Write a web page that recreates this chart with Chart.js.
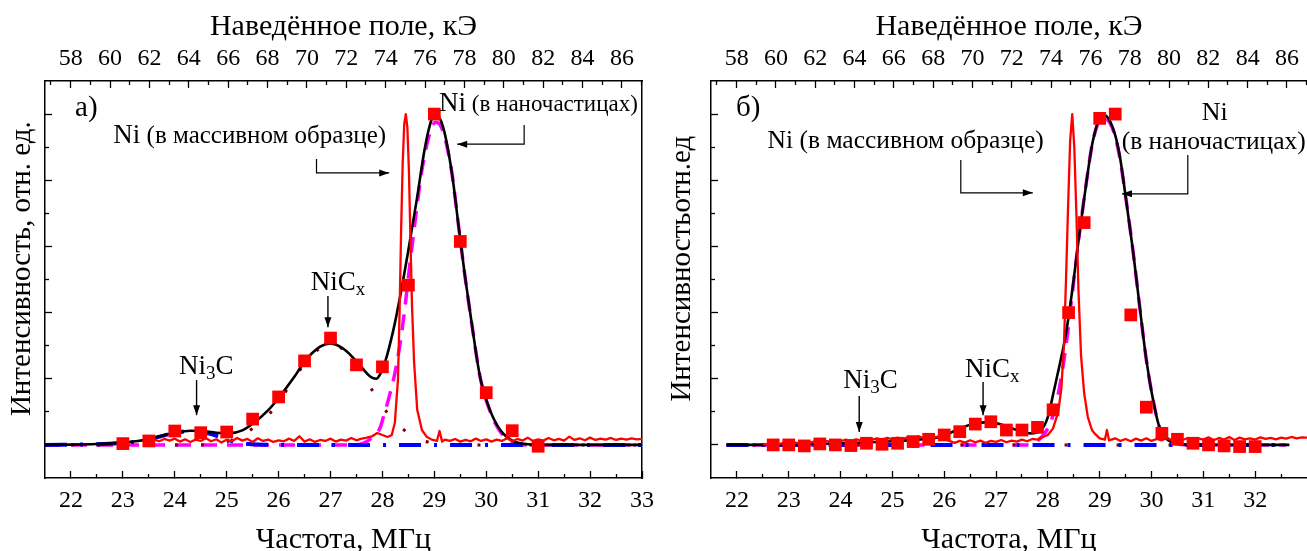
<!DOCTYPE html>
<html>
<head>
<meta charset="utf-8" />
<title>Спектры ЯМР Ni</title>
<script src="https://cdn.jsdelivr.net/npm/chart.js"></script>
<style>
  html, body { margin: 0; padding: 0; background: #fff; overflow: hidden; width: 1307px; height: 551px; position: relative; }
  canvas { position: absolute; top: 0; }
  #chartA { left: 0; }
  #chartB { left: 660px; }
</style>
</head>
<body>
<canvas id="chartA" width="660" height="551"></canvas>
<canvas id="chartB" width="670" height="551"></canvas>
<script>
// ---------- axes ----------
const freqTicksA = [22, 23, 24, 25, 26, 27, 28, 29, 30, 31, 32, 33];
const freqTicksB = [22, 23, 24, 25, 26, 27, 28, 29, 30, 31, 32];
const freqMinor = [22.5, 23.5, 24.5, 25.5, 26.5, 27.5, 28.5, 29.5, 30.5, 31.5, 32.5];
const fieldTicks = [58, 60, 62, 64, 66, 68, 70, 72, 74, 76, 78, 80, 82, 84, 86];
const fieldMinor = [57, 59, 61, 63, 65, 67, 69, 71, 73, 75, 77, 79, 81, 83, 85, 87];
const intensityTicks = [0, 0.2, 0.4, 0.6, 0.8, 1.0];
const intensityMinor = [0.1, 0.3, 0.5, 0.7, 0.9];

// ---------- panel a) ----------
// experimental points (nanoparticles)
const aSqF = [23.0, 23.5, 24.0, 24.5, 25.0, 25.5, 26.0, 26.5, 27.0, 27.5, 28.0, 28.5, 29.0, 29.5, 30.0, 30.5, 31.0];
const aSqI = [0.004, 0.012, 0.042, 0.037, 0.039, 0.078, 0.145, 0.254, 0.323, 0.242, 0.236, 0.483, 1.0, 0.615, 0.158, 0.043, -0.004];
// total fit (black)
const aFitF = [21.5, 22.0, 22.5, 23.0, 23.5, 23.8, 24.0, 24.3, 24.5, 24.8, 25.05, 25.3, 25.55, 25.8, 26.0, 26.3, 26.5, 26.8, 27.0, 27.28,
               27.53, 27.77, 27.88, 27.96, 28.05, 28.21, 28.34, 28.5, 28.66, 28.82, 28.95, 29.02, 29.17, 29.34, 29.46, 29.59, 29.72, 29.88, 30.07, 30.27,
               30.5, 30.8, 31.2, 33.0];
const aFitI = [0, 0.001, 0.003, 0.007, 0.017, 0.030, 0.037, 0.043, 0.042, 0.037, 0.035, 0.044, 0.070, 0.105, 0.142, 0.205, 0.252, 0.297, 0.307, 0.287,
               0.247, 0.206, 0.200, 0.215, 0.250, 0.347, 0.448, 0.589, 0.740, 0.900, 0.985, 1.0, 0.960, 0.820, 0.670, 0.510, 0.367, 0.206, 0.106, 0.045,
               0.013, 0.002, 0, 0];
// Ni in nanoparticles component (magenta dash)
const aNiF = [21.5, 27.5, 27.7, 27.85, 27.95, 28.02, 28.12, 28.24, 28.37, 28.57, 28.76, 28.9, 29.02, 29.1, 29.2, 29.34, 29.46, 29.59, 29.72, 29.88,
              30.07, 30.27, 30.5, 30.8, 33.0];
const aNiI = [0, 0, 0.010, 0.030, 0.050, 0.085, 0.140, 0.217, 0.338, 0.600, 0.830, 0.935, 0.975, 0.970, 0.930, 0.820, 0.670, 0.510, 0.367, 0.206,
              0.103, 0.040, 0.010, 0, 0];
// Ni3C component (blue dash-dot)
const aNi3CF = [21.5, 22.5, 23.0, 23.5, 23.8, 24.0, 24.3, 24.5, 24.7, 24.9, 25.1, 25.3, 25.6, 26.0, 33.0];
const aNi3CI = [0, 0.002, 0.006, 0.016, 0.029, 0.036, 0.042, 0.040, 0.033, 0.022, 0.012, 0.005, 0.001, 0, 0];
// NiCx component (dark red dots)
const aNiCxF = [21.5, 24.5, 25.0, 25.3, 25.5, 25.8, 26.0, 26.3, 26.5, 26.8, 27.0, 27.28, 27.53, 27.8, 28.08, 28.42, 28.7, 29.0, 29.5, 33.0];
const aNiCxI = [0, 0, 0.010, 0.030, 0.050, 0.090, 0.130, 0.200, 0.245, 0.293, 0.303, 0.285, 0.240, 0.166, 0.100, 0.045, 0.018, 0.005, 0, 0];
// bulk Ni spectrum (red line)
const aBulkF = [23.5, 23.6, 23.7, 23.8, 23.9, 24.0, 24.1, 24.2, 24.3, 24.4,
                24.5, 24.6, 24.7, 24.8, 24.9, 25.0, 25.1, 25.2, 25.3, 25.4,
                25.5, 25.6, 25.7, 25.8, 25.9, 26.0, 26.1, 26.2, 26.3, 26.4,
                26.5, 26.6, 26.7, 26.8, 26.9, 27.0, 27.1, 27.2, 27.3, 27.4,
                27.5, 27.6, 27.7, 27.8, 27.9, 28.0, 28.1, 28.18, 28.24, 28.3,
                28.33, 28.36, 28.39, 28.42, 28.45, 28.48, 28.51, 28.54, 28.57, 28.61,
                28.67, 28.76, 28.85, 28.95, 29.05, 29.1, 29.15, 29.2, 29.3, 29.4,
                29.5, 29.6, 29.7, 29.8, 29.9, 30.0, 30.1, 30.2, 30.3, 30.4,
                30.5, 30.6, 30.7, 30.8, 30.9, 31.0, 31.1, 31.2, 31.3, 31.4,
                31.5, 31.6, 31.7, 31.8, 31.9, 32.0, 32.1, 32.2, 32.3, 32.4,
                32.5, 32.6, 32.7, 32.8, 32.9, 33.0];
const aBulkI = [0.012, 0.016, 0.011, 0.018, 0.013, 0.019, 0.010, 0.017, 0.009, 0.016,
                0.012, 0.020, 0.011, 0.017, 0.007, 0.016, 0.011, 0.021, 0.013, 0.018,
                0.009, 0.020, 0.012, 0.016, 0.009, 0.014, 0.011, 0.019, 0.012, 0.026,
                0.010, 0.017, 0.009, 0.015, 0.012, 0.019, 0.010, 0.016, 0.013, 0.021,
                0.014, 0.019, 0.022, 0.026, 0.036, 0.030, 0.024, 0.030, 0.068, 0.200,
                0.400, 0.650, 0.850, 0.970, 1.000, 0.960, 0.830, 0.620, 0.420, 0.250,
                0.106, 0.045, 0.025, 0.016, 0.012, 0.042, 0.010, 0.016, 0.012, 0.018,
                0.010, 0.015, 0.011, 0.019, 0.012, 0.017, 0.010, 0.016, 0.012, 0.020,
                0.011, 0.018, 0.013, 0.022, 0.012, 0.017, 0.013, 0.021, 0.014, 0.018,
                0.013, 0.025, 0.015, 0.020, 0.014, 0.022, 0.015, 0.019, 0.016, 0.021,
                0.015, 0.019, 0.016, 0.020, 0.017, 0.018];

// ---------- panel б) ----------
const bSqF = [22.7, 23.0, 23.3, 23.6, 23.9, 24.2, 24.5, 24.8, 25.1, 25.4,
              25.7, 26.0, 26.3, 26.6, 26.9, 27.2, 27.5, 27.8, 28.1, 28.4,
              28.7, 29.0, 29.3, 29.6, 29.9, 30.2, 30.5, 30.8, 31.1, 31.4,
              31.7, 32.0];
const bSqI = [0.0, 0.0, -0.003, 0.003, 0.0, -0.002, 0.005, 0.002, 0.005, 0.010,
              0.017, 0.030, 0.040, 0.063, 0.070, 0.045, 0.045, 0.053, 0.106, 0.400,
              0.672, 0.987, 1.0, 0.393, 0.114, 0.035, 0.017, 0.005, 0.0, -0.003,
              -0.005, -0.005];
const bFitF = [21.8, 23.0, 24.0, 25.0, 25.5, 25.94, 26.2, 26.5, 26.83, 27.1, 27.4, 27.67, 27.87, 28.0, 28.12, 28.22, 28.35, 28.48, 28.61, 28.74,
               28.87, 29.06, 29.25, 29.38, 29.51, 29.64, 29.77, 29.9, 30.03, 30.15, 30.28, 30.5, 30.8, 32.66];
const bFitI = [0, 0.001, 0.005, 0.011, 0.016, 0.025, 0.042, 0.061, 0.069, 0.062, 0.045, 0.035, 0.045, 0.085, 0.166, 0.237, 0.337, 0.478, 0.640, 0.790,
               0.920, 1.0, 0.960, 0.880, 0.740, 0.590, 0.420, 0.257, 0.136, 0.055, 0.020, 0.004, 0, 0];
const bNiF = [21.8, 27.6, 27.8, 28.0, 28.12, 28.22, 28.35, 28.48, 28.61, 28.74, 28.87, 29.06, 29.25, 29.38, 29.51, 29.64, 29.77, 29.9, 30.03, 30.15,
              30.28, 30.45, 30.7, 32.6];
const bNiI = [0, 0, 0.012, 0.050, 0.100, 0.170, 0.300, 0.470, 0.640, 0.790, 0.920, 0.990, 0.955, 0.875, 0.740, 0.590, 0.420, 0.257, 0.136, 0.055,
              0.020, 0.005, 0, 0];
const bNi3CF = [21.8, 32.6];
const bNi3CI = [0, 0];
const bNiCxF = [21.8, 32.6];
const bNiCxI = [0, 0];
const bBulkF = [22.5, 22.6, 22.7, 22.8, 22.9, 23.0, 23.1, 23.2, 23.3, 23.4,
                23.5, 23.6, 23.7, 23.8, 23.9, 24.0, 24.1, 24.2, 24.3, 24.4,
                24.5, 24.6, 24.7, 24.8, 24.9, 25.0, 25.1, 25.2, 25.3, 25.4,
                25.5, 25.6, 25.7, 25.8, 25.9, 26.0, 26.1, 26.2, 26.3, 26.4,
                26.5, 26.6, 26.7, 26.8, 26.9, 27.0, 27.1, 27.2, 27.3, 27.4,
                27.5, 27.6, 27.7, 27.8, 27.9, 28.0, 28.1, 28.2, 28.26, 28.31,
                28.35, 28.39, 28.43, 28.47, 28.51, 28.55, 28.59, 28.64, 28.7, 28.77,
                28.85, 28.9, 29.0, 29.1, 29.14, 29.18, 29.3, 29.4, 29.5, 29.6,
                29.7, 29.8, 29.9, 30.0, 30.1, 30.2, 30.3, 30.4, 30.5, 30.6,
                30.7, 30.8, 30.9, 31.0, 31.1, 31.2, 31.3, 31.4, 31.5, 31.6,
                31.7, 31.8, 31.9, 32.0, 32.1, 32.2, 32.3, 32.4, 32.5, 32.6,
                32.7, 32.8, 32.9, 33.0];
const bBulkI = [0.003, 0.000, 0.005, 0.002, 0.006, 0.004, 0.008, 0.005, 0.009, 0.006,
                0.011, 0.008, 0.012, 0.010, 0.014, 0.011, 0.016, 0.012, 0.017, 0.014,
                0.018, 0.015, 0.020, 0.016, 0.021, 0.017, 0.022, 0.018, 0.024, 0.020,
                0.026, 0.021, 0.028, 0.023, 0.026, 0.018, 0.012, 0.006, 0.012, 0.007,
                0.014, 0.008, 0.013, 0.006, 0.012, 0.009, 0.015, 0.008, 0.013, 0.010,
                0.016, 0.011, 0.018, 0.016, 0.024, 0.030, 0.050, 0.100, 0.170, 0.300,
                0.500, 0.720, 0.920, 1.000, 0.900, 0.700, 0.470, 0.270, 0.157, 0.085,
                0.045, 0.035, 0.020, 0.016, 0.045, 0.014, 0.020, 0.012, 0.018, 0.011,
                0.019, 0.013, 0.020, 0.012, 0.018, 0.014, 0.022, 0.013, 0.019, 0.015,
                0.021, 0.014, 0.020, 0.016, 0.023, 0.014, 0.021, 0.016, 0.024, 0.015,
                0.022, 0.017, 0.020, 0.016, 0.023, 0.018, 0.021, 0.017, 0.022, 0.019,
                0.024, 0.020, 0.023, 0.022];

// ---------- common settings ----------
const SERIF = "'Liberation Serif', 'Times New Roman', serif";
const KOE_PER_MHZ = 2.637;   // top axis = field, bottom axis = frequency
const F_MIN = 21.5, F_MAX = 33.0;
const I_MIN = -0.1, I_MAX = 1.1;

const pts = (xs, ys) => xs.map((x, i) => ({ x: x, y: ys[i] }));

function makeScales(freqTicks, yTitle, withRightFrame) {
  // fixed axis size, and no extra room for edge labels so the frame stays put
  const fixed = (key, val) => s => {
    s[key] = val;
    s.paddingLeft = s.paddingRight = s.paddingTop = s.paddingBottom = 0;
  };
  const setTicks = list => s => { s.ticks = list.map(v => ({ value: v })); };
  const major = { drawOnChartArea: false, tickLength: -7, tickWidth: 1.3, tickColor: '#000' };
  const minor = { drawOnChartArea: false, tickLength: -4, tickWidth: 1.3, tickColor: '#000' };
  const edge = { color: '#000', width: 1.5 };
  const scales = {
    x: {
      type: 'linear', axis: 'x', position: 'bottom', min: F_MIN, max: F_MAX,
      afterBuildTicks: setTicks(freqTicks), afterFit: fixed('height', 73),
      grid: major, border: edge,
      ticks: { font: { family: SERIF, size: 24 }, color: '#000', padding: 15, maxRotation: 0, autoSkip: false },
      title: { display: true, text: 'Частота, МГц', color: '#000',
               font: { family: SERIF, size: 30, lineHeight: 1 }, padding: { top: 0, bottom: -4 } }
    },
    xMinor: {
      type: 'linear', axis: 'x', position: 'bottom', weight: -1, min: F_MIN, max: F_MAX,
      afterBuildTicks: setTicks(freqMinor), afterFit: fixed('height', 0),
      grid: minor, border: { display: false }, ticks: { display: false }
    },
    field: {
      type: 'linear', axis: 'x', position: 'top',
      min: F_MIN * KOE_PER_MHZ, max: F_MAX * KOE_PER_MHZ,
      afterBuildTicks: setTicks(fieldTicks), afterFit: fixed('height', 81),
      grid: major, border: edge,
      ticks: { font: { family: SERIF, size: 24 }, color: '#000', padding: 15, maxRotation: 0, autoSkip: false },
      title: { display: true, text: 'Наведённое поле, кЭ', color: '#000',
               font: { family: SERIF, size: 30, lineHeight: 1 }, padding: { top: 12, bottom: 0 } }
    },
    fieldMinor: {
      type: 'linear', axis: 'x', position: 'top', weight: -1,
      min: F_MIN * KOE_PER_MHZ, max: F_MAX * KOE_PER_MHZ,
      afterBuildTicks: setTicks(fieldMinor), afterFit: fixed('height', 0),
      grid: minor, border: { display: false }, ticks: { display: false }
    },
    y: {
      type: 'linear', axis: 'y', position: 'left', min: I_MIN, max: I_MAX,
      afterBuildTicks: setTicks(intensityTicks), afterFit: fixed('width', withRightFrame ? 45 : 51),
      grid: major, border: edge, ticks: { display: false },
      title: { display: true, text: yTitle, color: '#000',
               font: { family: SERIF, size: 29, lineHeight: 1 }, padding: { top: 8, bottom: 0 } }
    },
    yMinor: {
      type: 'linear', axis: 'y', position: 'left', weight: -1, min: I_MIN, max: I_MAX,
      afterBuildTicks: setTicks(intensityMinor), afterFit: fixed('width', 0),
      grid: minor, border: { display: false }, ticks: { display: false }
    }
  };
  if (withRightFrame) {
    scales.frame = {
      type: 'linear', axis: 'y', position: 'right', min: I_MIN, max: I_MAX,
      afterFit: fixed('width', 0), grid: { display: false }, border: edge, ticks: { display: false }
    };
  }
  return scales;
}

function makeDatasets(d) {
  const line = { showLine: true, pointRadius: 0, fill: false, xAxisID: 'x', yAxisID: 'y' };
  return [
    { ...line, data: pts(d.sqF, d.sqI), showLine: false, pointStyle: 'rect', pointRadius: 9,
      backgroundColor: '#ff0000', borderWidth: 0, order: 0 },
    { ...line, data: pts(d.bulkF, d.bulkI), borderColor: '#ff0000', borderWidth: 2.3, tension: 0,
      borderJoinStyle: 'round', order: 1 },
    { ...line, data: pts(d.fitF, d.fitI), borderColor: '#000', borderWidth: 2.6, cubicInterpolationMode: 'monotone', order: 2 },
    { ...line, data: pts(d.ni3cF, d.ni3cI), borderColor: '#0000ff', borderWidth: 4, borderDash: [22, 13, 3, 13],
      cubicInterpolationMode: 'monotone', order: 3 },
    { ...line, data: pts(d.nicxF, d.nicxI), borderColor: '#800000', borderWidth: 3, borderDash: [3, 23],
      cubicInterpolationMode: 'monotone', order: 4 },
    { ...line, data: pts(d.niF, d.niI), borderColor: '#ff00ff', borderWidth: 3.5, borderDash: [16, 10],
      cubicInterpolationMode: 'monotone', order: 5 }
  ];
}

// labels and arrows, placed in data coordinates (MHz, intensity)
const annotate = {
  id: 'annotate',
  afterDatasetsDraw(chart, args, opts) {
    const { ctx } = chart;
    const sx = chart.scales.x, sy = chart.scales.y;
    const px = f => sx.getPixelForValue(f), py = v => sy.getPixelForValue(v);
    ctx.save();
    ctx.fillStyle = '#000';
    ctx.strokeStyle = '#000';
    ctx.textBaseline = 'alphabetic';
    for (const a of opts.items) {
      if (a.text) {
        let w = 0;
        for (const p of a.text) { ctx.font = p[1] + 'px ' + SERIF; w += ctx.measureText(p[0]).width; }
        let x = px(a.at[0]);
        if (a.align === 'right') x -= w; else if (a.align === 'center') x -= w / 2;
        const y = py(a.at[1]);
        for (const p of a.text) {
          ctx.font = p[1] + 'px ' + SERIF;
          ctx.fillText(p[0], x, y + (p[2] || 0));
          x += ctx.measureText(p[0]).width;
        }
      } else if (a.arrow) {
        const P = a.arrow.map(q => [px(q[0]), py(q[1])]);
        ctx.lineWidth = a.lw || 1.2;
        ctx.beginPath();
        ctx.moveTo(P[0][0], P[0][1]);
        for (let i = 1; i < P.length; i++) ctx.lineTo(P[i][0], P[i][1]);
        ctx.stroke();
        const [x1, y1] = P[P.length - 2], [x2, y2] = P[P.length - 1];
        const ang = Math.atan2(y2 - y1, x2 - x1), len = 10, half = 3.5;
        ctx.beginPath();
        ctx.moveTo(x2, y2);
        ctx.lineTo(x2 - len * Math.cos(ang) + half * Math.sin(ang), y2 - len * Math.sin(ang) - half * Math.cos(ang));
        ctx.lineTo(x2 - len * Math.cos(ang) - half * Math.sin(ang), y2 - len * Math.sin(ang) + half * Math.cos(ang));
        ctx.closePath();
        ctx.fill();
      }
    }
    ctx.restore();
  }
};

const notesA = [
  { text: [['а)', 29]], at: [22.08, 0.994], align: 'left' },
  { text: [['Ni', 27], [' (в наночастицах)', 23]], at: [32.92, 1.009], align: 'right' },
  { text: [['Ni', 27], [' (в массивном образце)', 25]], at: [28.07, 0.913], align: 'right' },
  { arrow: [[26.73, 0.864], [26.73, 0.822], [28.13, 0.822]] },
  { arrow: [[30.73, 0.967], [30.73, 0.909], [29.44, 0.909]] },
  { text: [['NiC', 27], ['x', 19, 5]], at: [26.62, 0.468], align: 'left' },
  { arrow: [[26.95, 0.450], [26.95, 0.356]], lw: 1.4 },
  { text: [['Ni', 27], ['3', 19, 5], ['C', 27]], at: [24.08, 0.214], align: 'left' },
  { arrow: [[24.42, 0.196], [24.42, 0.090]], lw: 1.4 }
];
const notesB = [
  { text: [['б)', 29]], at: [21.98, 0.994], align: 'left' },
  { text: [['Ni', 26]], at: [31.22, 0.982], align: 'center' },
  { text: [['(в наночастицах)', 25.5]], at: [31.2, 0.895], align: 'center' },
  { text: [['Ni (в массивном образце)', 25.5]], at: [27.92, 0.897], align: 'right' },
  { arrow: [[26.32, 0.861], [26.32, 0.762], [27.71, 0.762]] },
  { arrow: [[30.70, 0.876], [30.70, 0.759], [29.43, 0.759]] },
  { text: [['NiC', 27], ['x', 19, 5]], at: [26.40, 0.206], align: 'left' },
  { arrow: [[26.75, 0.190], [26.75, 0.090]], lw: 1.4 },
  { text: [['Ni', 27], ['3', 19, 5], ['C', 27]], at: [24.05, 0.172], align: 'left' },
  { arrow: [[24.36, 0.148], [24.36, 0.039]], lw: 1.4 }
];

function build(id, freqTicks, yTitle, withRightFrame, d, notes, padRight) {
  return new Chart(document.getElementById(id), {
    type: 'scatter',
    data: { datasets: makeDatasets(d) },
    options: {
      responsive: false,
      animation: false,
      events: [],
      layout: { padding: { left: 0, right: padRight, top: 0, bottom: 0 } },
      scales: makeScales(freqTicks, yTitle, withRightFrame),
      plugins: { legend: { display: false }, tooltip: { enabled: false }, annotate: { items: notes } }
    },
    plugins: [annotate]
  });
}

build('chartA', freqTicksA, '   Интенсивность, отн. ед.', true,
  { sqF: aSqF, sqI: aSqI, fitF: aFitF, fitI: aFitI, niF: aNiF, niI: aNiI,
    ni3cF: aNi3CF, ni3cI: aNi3CI, nicxF: aNiCxF, nicxI: aNiCxI, bulkF: aBulkF, bulkI: aBulkI },
  notesA, 18);

// canvas B runs 23px past the window edge, so the plot frame ends at the window edge
build('chartB', freqTicksB, '   Интенсивностьотн.ед', false,
  { sqF: bSqF, sqI: bSqI, fitF: bFitF, fitI: bFitI, niF: bNiF, niI: bNiI,
    ni3cF: bNi3CF, ni3cI: bNi3CI, nicxF: bNiCxF, nicxI: bNiCxI, bulkF: bBulkF, bulkI: bBulkI },
  notesB, 23);
</script>
</body>
</html>
